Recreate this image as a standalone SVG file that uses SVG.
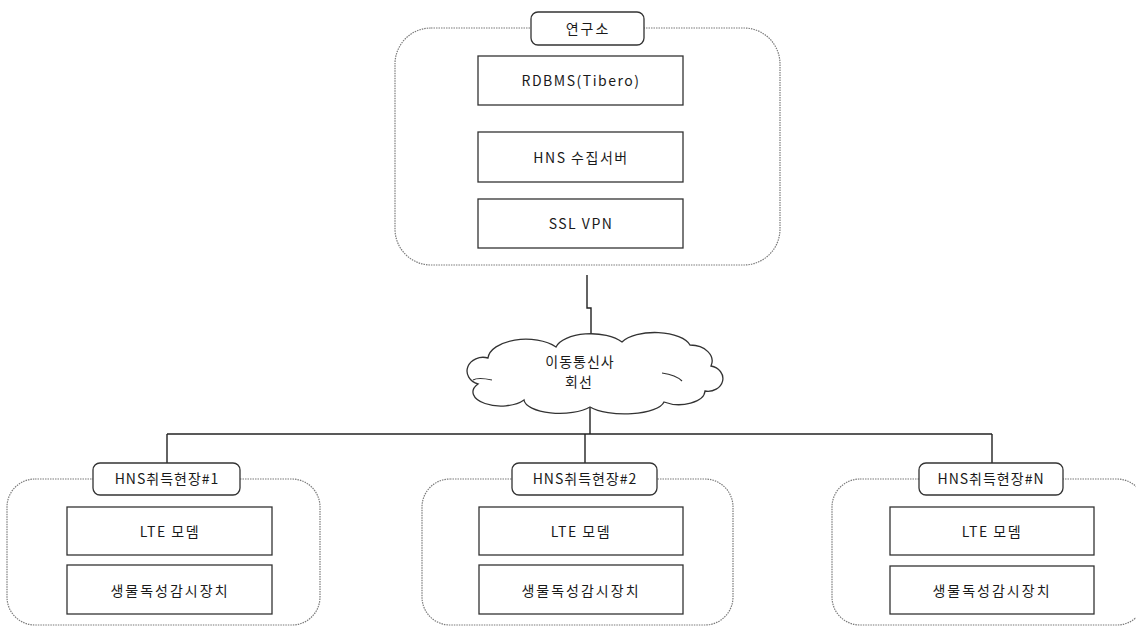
<svg xmlns="http://www.w3.org/2000/svg" width="1136" height="626" viewBox="0 0 1136 626">
<style>
.cont{fill:none;stroke:#7a7a7a;stroke-width:1.2;stroke-dasharray:1.5 1}
.lbl{fill:#fff;stroke:#333;stroke-width:1.3}
.box{fill:#fff;stroke:#333;stroke-width:1.3}
.t{font-family:"Noto Sans CJK KR","Liberation Sans",sans-serif;font-size:14px;fill:#1a1a1a;text-anchor:middle;letter-spacing:1px}
.wide{letter-spacing:1.5px}
.wider{letter-spacing:2px}
.conn{fill:none;stroke:#222;stroke-width:1.4}
</style>
<rect width="1136" height="626" fill="#fff"/>
<g id="connectors">
<polyline class="conn" points="587,275 587,308 591,308 591,342"/>
<line class="conn" x1="590" y1="405" x2="590" y2="434"/>
<line class="conn" x1="167" y1="434" x2="992" y2="434"/>
<line class="conn" x1="167" y1="434" x2="167" y2="463"/>
<line class="conn" x1="585" y1="434" x2="585" y2="463"/>
<line class="conn" x1="992" y1="434" x2="992" y2="463"/>
</g>
<g id="lab">
<rect class="cont" x="395" y="28" width="385" height="237" rx="36"/>
<rect class="lbl" x="531" y="12" width="113" height="33" rx="7"/>
<text class="t wider" x="588" y="34">연구소</text>
</g>
<g id="rdbms">
<rect class="box" x="478" y="56" width="205" height="49"/>
<text class="t wide" x="581" y="86">RDBMS(Tibero)</text>
</g>
<g id="hns-server">
<rect class="box" x="478" y="132" width="205" height="50"/>
<text class="t wide" x="581" y="163">HNS 수집서버</text>
</g>
<g id="sslvpn">
<rect class="box" x="478" y="199" width="205" height="49"/>
<text class="t wide" x="581" y="229">SSL VPN</text>
</g>
<g id="cloud">
<path fill="#fff" stroke="#333" stroke-width="1.3" d="M478,384 A14,12 0 0 1 488,358 A38,20 0 0 1 556,347 A36,17 0 0 1 622,342 A36,16 0 0 1 690,345 A22,16 0 0 1 711,366 A14,12 0 0 1 705,391 A26,14 0 0 1 664,402 A40,14 0 0 1 590,407 A36,14 0 0 1 524,400 A26,13 0 0 1 478,384 Z"/>
<path fill="none" stroke="#333" stroke-width="1.2" d="M473,380 Q478,377 492,380 M662,373 Q676,375 682,381"/>
<text class="t" x="580" y="367">이동통신사</text>
<text class="t" x="579" y="387">회선</text>
</g>
<g id="site1">
<rect class="cont" x="7" y="479" width="313" height="146" rx="28"/>
<rect class="lbl" x="93" y="463" width="147" height="32" rx="7"/>
<text class="t" x="167" y="484">HNS취득현장#1</text>
<rect class="box" x="67" y="507" width="205" height="48"/>
<text class="t wide" x="170" y="537">LTE 모뎀</text>
<rect class="box" x="67" y="565" width="205" height="49"/>
<text class="t wider" x="170" y="596">생물독성감시장치</text>
</g>
<g id="site2">
<rect class="cont" x="422" y="479" width="311" height="146" rx="28"/>
<rect class="lbl" x="512" y="463" width="145" height="32" rx="7"/>
<text class="t" x="585" y="484">HNS취득현장#2</text>
<rect class="box" x="479" y="507" width="204" height="48"/>
<text class="t wide" x="581" y="537">LTE 모뎀</text>
<rect class="box" x="479" y="565" width="204" height="49"/>
<text class="t wider" x="581" y="596">생물독성감시장치</text>
</g>
<g id="siteN">
<rect class="cont" x="832" y="479" width="313" height="146" rx="28"/>
<rect class="lbl" x="919" y="463" width="144" height="32" rx="7"/>
<text class="t" x="991" y="484">HNS취득현장#N</text>
<rect class="box" x="890" y="507" width="204" height="48"/>
<text class="t wide" x="992" y="537">LTE 모뎀</text>
<rect class="box" x="890" y="566" width="204" height="48"/>
<text class="t wider" x="992" y="596">생물독성감시장치</text>
</g>
</svg>
